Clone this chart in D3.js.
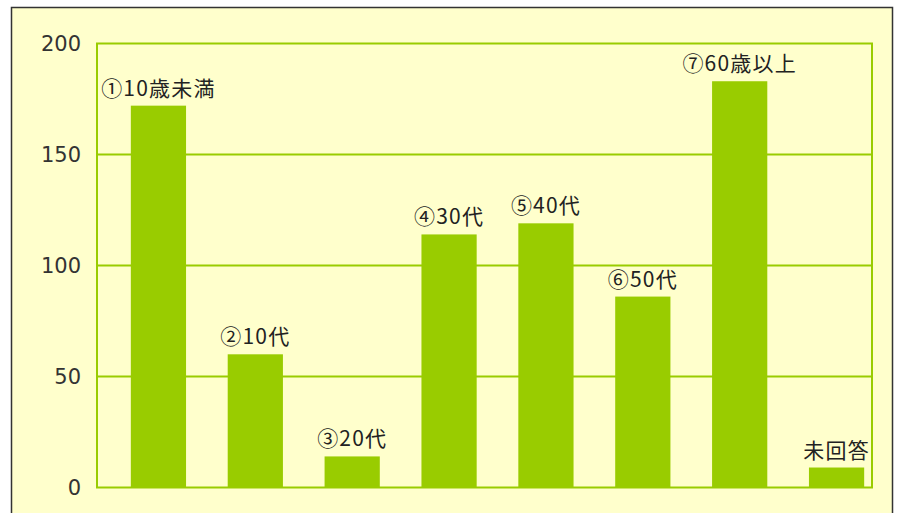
<!DOCTYPE html>
<html>
<head>
<meta charset="utf-8">
<script src="https://cdn.jsdelivr.net/npm/d3@7"></script>
<style>
  body { margin: 0; background: #fff; }
</style>
</head>
<body>
<svg id="chart" width="900" height="513"></svg>
<script>
const categories = ['①10歳未満', '②10代', '③20代', '④30代', '⑤40代', '⑥50代', '⑦60歳以上', '未回答']
const counts = [172, 60, 14, 114, 119, 86, 183, 9]
const yTicks = [0, 50, 100, 150, 200]

function drawChart() {
  const svg = d3.select('#chart')
  svg.selectAll('*').remove()

  const green = '#99cc00'
  const tickFont = '"DejaVu Sans", sans-serif'
  const labelFont = '"Noto Sans CJK JP", sans-serif'

  // outer panel
  svg.append('rect')
    .attr('x', 11.5)
    .attr('y', 7.5)
    .attr('width', 881)
    .attr('height', 520)
    .attr('fill', '#ffffcc')
    .attr('stroke', '#333')
    .attr('stroke-width', 1.5)

  const plot = { left: 97, right: 872, top: 43.5, bottom: 487.5 }

  const y = d3.scaleLinear()
    .domain([0, 200])
    .range([plot.bottom, plot.top])

  // category axis sits a bit right of the frame, like the original
  const x = d3.scaleBand()
    .domain(categories)
    .range([110, 885])
    .paddingInner(0.43)
    .paddingOuter(0.215)

  const g = svg.append('g')

  g.selectAll('line.grid')
    .data(yTicks.filter(d => d > 0 && d < 200))
    .join('line')
    .attr('class', 'grid')
    .attr('x1', plot.left)
    .attr('x2', plot.right)
    .attr('y1', d => y(d))
    .attr('y2', d => y(d))
    .attr('stroke', green)
    .attr('stroke-width', 2)

  g.append('rect')
    .attr('x', plot.left)
    .attr('y', plot.top)
    .attr('width', plot.right - plot.left)
    .attr('height', plot.bottom - plot.top)
    .attr('fill', 'none')
    .attr('stroke', green)
    .attr('stroke-width', 2)

  g.selectAll('text.tick')
    .data(yTicks)
    .join('text')
    .attr('class', 'tick')
    .attr('x', 81)
    .attr('y', d => y(d))
    .attr('dy', '0.36em')
    .attr('text-anchor', 'end')
    .attr('font-family', tickFont)
    .attr('font-size', 21)
    .attr('fill', '#333')
    .text(d => d)

  g.selectAll('rect.bar')
    .data(counts)
    .join('rect')
    .attr('class', 'bar')
    .attr('x', (d, i) => x(categories[i]))
    .attr('y', d => y(d))
    .attr('width', x.bandwidth())
    .attr('height', d => y(0) - y(d))
    .attr('fill', green)

  g.selectAll('text.label')
    .data(counts)
    .join('text')
    .attr('class', 'label')
    .attr('x', (d, i) => x(categories[i]) + x.bandwidth() / 2)
    .attr('y', d => y(d) - 10)
    .attr('text-anchor', 'middle')
    .attr('font-family', labelFont)
    .attr('font-size', 21)
    .attr('letter-spacing', 1.2)
    .attr('fill', '#222')
    .text((d, i) => categories[i])
}

document.addEventListener('DOMContentLoaded', drawChart, false)
</script>
</body>
</html>
